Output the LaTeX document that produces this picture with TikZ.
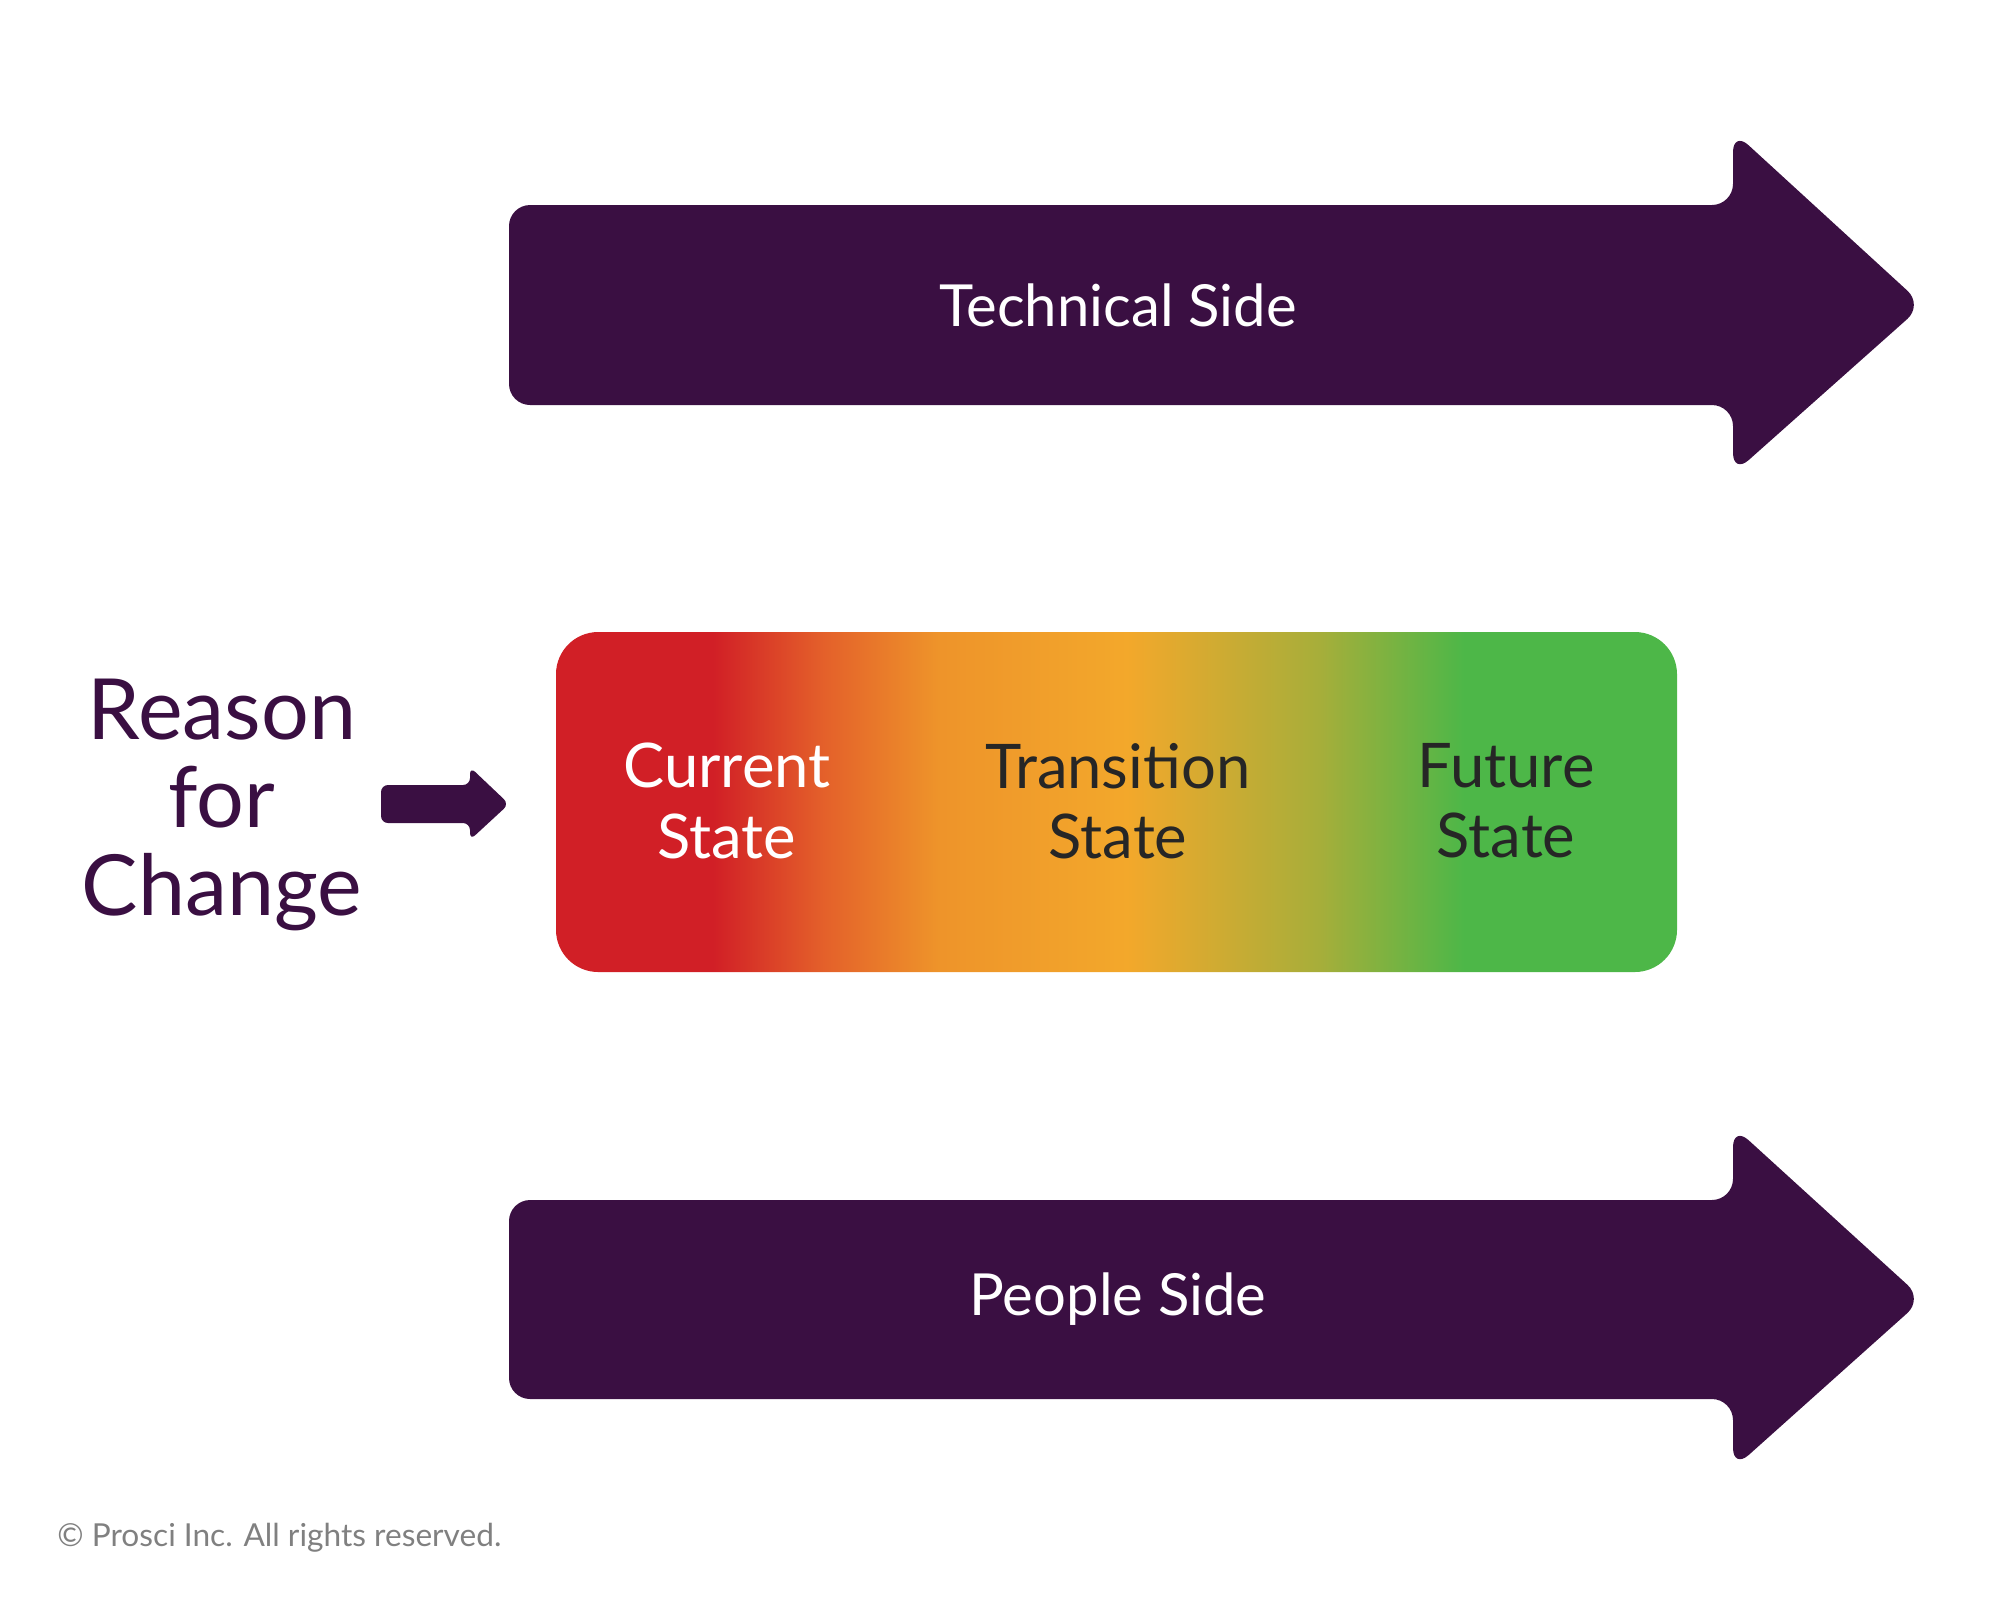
\documentclass[tikz,border=0pt]{standalone}
\usepackage{fontspec}
\setmainfont{Lato}
\usetikzlibrary{positioning}
\definecolor{prosciPurple}{HTML}{3A0F42}
\definecolor{stateRed}{HTML}{D11F26}
\definecolor{stateOrange}{HTML}{F3A82B}
\definecolor{stateGreen}{HTML}{4DB748}
\definecolor{stateOlive}{HTML}{A7AE3A}
\definecolor{stateRust}{HTML}{E4612A}
\pgfdeclarehorizontalshading{stateshade}{100bp}{
  color(0bp)=(stateRed); color(32bp)=(stateRed); color(37bp)=(stateRust);
  color(42bp)=(stateOrange!85!stateRed); color(50.5bp)=(stateOrange);
  color(59bp)=(stateOlive); color(65.5bp)=(stateGreen); color(100bp)=(stateGreen)}
\tikzset{
  big arrow/.style={fill=prosciPurple, rounded corners=6},
  side label/.style={text=white, font=\fontsize{16.5}{20}\selectfont},
  state label/.style={align=center, font=\fontsize{17.5}{20}\selectfont},
}
\begin{document}
\begin{tikzpicture}[x=0.01cm, y=-0.01cm]
  \useasboundingbox (0,0) rectangle (2000,1611);
  % technical side
  \fill[big arrow] (509,205) -- (1733,205) -- (1733,131) -- (1923,305)
    -- (1733,474) -- (1733,405) -- (509,405) -- cycle;
  \node[side label] (tech) at (1118,305) {Technical Side};
  % people side
  \fill[big arrow] (509,1200) -- (1733,1200) -- (1733,1126) -- (1923,1299)
    -- (1733,1469) -- (1733,1399) -- (509,1399) -- cycle;
  \node[side label] (people) at (1118,1299) {People Side};
  % states
  \shade[shading=stateshade, rounded corners=12] (556,632) rectangle (1677,972);
  \node[state label, text=white] (current) at (727,801) {Current\\State};
  \node[state label, text=black!85] (transition) at (1118,801) {Transition\\State};
  \node[state label, text=black!85] (future) at (1506,801) {Future\\State};
  % reason
  \node[align=center, text=prosciPurple, font=\fontsize{24}{25}\selectfont] (reason) at (222,805) {Reason\\for\\Change};
  \fill[prosciPurple, rounded corners=2] (381,785) -- (470,785) -- (470,767) -- (509,804)
    -- (470,840) -- (470,823) -- (381,823) -- cycle;
  \node[anchor=west, text=black!50, font=\fontsize{9}{11}\selectfont] (copy) at (45,1538) {© Prosci Inc. All rights reserved.};
\end{tikzpicture}
\end{document}
